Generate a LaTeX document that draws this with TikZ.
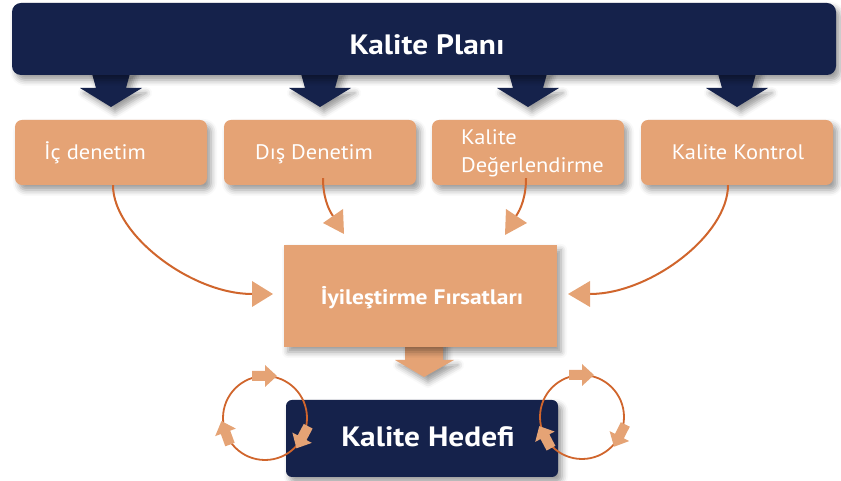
\documentclass[tikz,border=0pt]{standalone}
\usepackage{fontspec}
\setmainfont{PT Sans}
\newfontfamily\regf{PT Sans}[FakeStretch=1.07]
\newfontfamily\bldf{PT Sans}[FakeStretch=1.12]
\usetikzlibrary{shadows.blur,calc}
\definecolor{navy}{HTML}{15224B}
\definecolor{salmon}{HTML}{E5A375}
\definecolor{rust}{HTML}{D0652C}
\begin{document}
\begin{tikzpicture}[x=1pt,y=1pt,
  shd/.style={blur shadow={shadow xshift=4pt, shadow yshift=-5pt, shadow blur radius=6pt, shadow opacity=40}},
  navybar/.style={fill=navy, rounded corners=9pt, shd, inner sep=0pt},
  obox/.style={fill=salmon, rounded corners=7pt, minimum width=192pt, minimum height=65pt, shd, inner sep=0pt},
  ttl/.style={text=white, font=\bldf\bfseries\fontsize{28}{30}\selectfont, inner sep=0pt, anchor=base},
  otxt/.style={text=white, font=\regf\fontsize{21}{25}\selectfont, inner sep=0pt, anchor=base},
  mtxt/.style={text=white, font=\bldf\bfseries\fontsize{21}{25}\selectfont, inner sep=0pt, anchor=base},
  conn/.style={draw=rust, line width=2pt},
  ahead/.style={fill=salmon},
  loop/.style={draw=rust, line width=1.8pt},
]
\useasboundingbox (0,0) rectangle (841,481);

% top bar arrows
\foreach \cx in {111,320,528,737}{
  \fill[navy, shd, shift={(\cx,406)}] (-20,5) -- (20,5) -- (15,-13) -- (31,-13) -- (0,-32) -- (-31,-13) -- (-15,-13) -- cycle;
}
\node[navybar, minimum width=824pt, minimum height=72pt] (plan) at (424,442) {};
\node[ttl] (planT) at (427,426) {Kalite Planı};

% orange boxes
\node[obox] (b1) at (111,328.5) {};
\node[obox] (b2) at (320,328.5) {};
\node[obox] (b3) at (528,328.5) {};
\node[obox] (b4) at (737,328.5) {};
\node[otxt] (t1) at (95,321) {İç denetim};
\node[otxt] (t2) at (314,321) {Dış Denetim};
\node[otxt, anchor=base west] (t3a) at (461,336) {Kalite};
\node[otxt, anchor=base west] (t3b) at (461,308) {Değerlendirme};
\node[otxt] (t4) at (738,321) {Kalite Kontrol};

% middle box with down arrow
\fill[salmon, shd] (405,140) -- (443,140) -- (443,121) -- (454,121) -- (424,104) -- (395,121) -- (405,121) -- cycle;
\node[fill=salmon, minimum width=273pt, minimum height=102pt, inner sep=0pt, shd] (m) at (420.5,185) {};
\node[mtxt] (mT) at (422,176) {İyileştirme Fırsatları};

% bottom box
\node[navybar, rounded corners=6pt, minimum width=272pt, minimum height=77pt] (h) at (422,42.5) {};
\node[ttl] (hT) at (428,34) {Kalite Hedefi};

% connectors
\coordinate (e1) at (252,187);
\coordinate (e2) at (333,265);
\coordinate (e3) at (516,265);
\coordinate (e4) at (590,187);
\draw[conn] ([xshift=2pt]b1.south) .. controls ++(0,-50) and ++(-60,0) .. (e1);
\draw[conn] ([xshift=3pt,yshift=7pt]b2.south) .. controls ++(0,-18) and ++(-5,7) .. (e2);
\draw[conn] ([xshift=-2pt,yshift=7pt]b3.south) .. controls ++(0,-18) and ++(5,7) .. (e3);
\draw[conn] ([xshift=-9pt]b4.south) .. controls ++(0,-50) and ++(60,0) .. (e4);
\fill[ahead] (252,200) -- (273,187) -- (252,174) -- cycle;
\fill[ahead] (323,258) -- (344,247) -- (343,272) -- cycle;
\fill[ahead] (527,258) -- (505,246) -- (506,272) -- cycle;
\fill[ahead] (590,200) -- (568,187) -- (590,174) -- cycle;

% loops
\coordinate (lc) at (265,63);
\coordinate (rc) at (582,64);
\draw[loop] (lc) circle (42);
\draw[loop] (rc) circle (42);
\foreach \c/\ang in {lc/90, lc/-28, lc/200, rc/90, rc/-27, rc/208}{
  \fill[ahead, shift={($(\c)+(\ang:42)$)}, rotate=\ang-90]
    (-13,-5) -- (0,-5) -- (0,-11) -- (12,0) -- (0,11) -- (0,5) -- (-13,5) -- cycle;
}
\end{tikzpicture}
\end{document}
